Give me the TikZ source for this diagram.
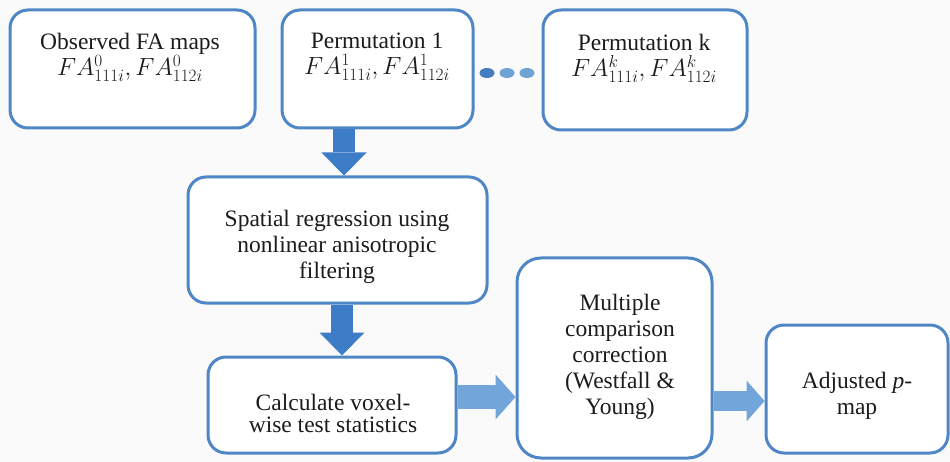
\documentclass[tikz,border=0pt]{standalone}
\usepackage{fontspec}
\setmainfont{Liberation Serif}
\usetikzlibrary{arrows.meta,calc}
\definecolor{boxblue}{RGB}{79,135,198}
\definecolor{arrdark}{RGB}{61,124,199}
\definecolor{arrlight}{RGB}{114,166,218}
\definecolor{dotdark}{RGB}{66,125,192}
\definecolor{dotlight}{RGB}{110,163,214}
\definecolor{txt}{RGB}{28,28,28}
\definecolor{bg}{RGB}{251,250,251}
\begin{document}
\begin{tikzpicture}[x=1pt,y=-1pt,
  flowbox/.style={draw=boxblue,line width=3pt,fill=white,rounded corners=18pt,
    inner sep=0pt},
  boxtext/.style={align=center,text=txt,inner sep=0pt,
    font=\fontsize{23.5}{26}\selectfont},
  vtarrow/.style={arrdark,line width=22pt,-{Triangle[width=45pt,length=23pt,line width=0pt]}},
  hzarrow/.style={arrlight,line width=24pt,-{Triangle[width=45pt,length=20pt,line width=0pt]}}]
\fill[bg] (0,0) rectangle (950,462);
\useasboundingbox (0,0) rectangle (950,462);
% boxes
\node[flowbox,minimum width=245pt,minimum height=118pt] (b1) at (132.5,69) {};
\node[flowbox,minimum width=191pt,minimum height=118pt] (b2) at (377.5,69) {};
\node[flowbox,minimum width=204pt,minimum height=120pt] (b3) at (645,70) {};
\node[flowbox,minimum width=299pt,minimum height=126pt] (b4) at (337.5,240) {};
\node[flowbox,minimum width=248pt,minimum height=96pt] (b5) at (332,405) {};
\node[flowbox,minimum width=195pt,minimum height=200pt,rounded corners=24pt] (b6) at (614.5,358) {};
\node[flowbox,minimum width=182pt,minimum height=128pt] (b7) at (857,389) {};
% texts
\node[boxtext] (t1) at (130,57) {Observed FA maps\\$FA^{0}_{111i}, FA^{0}_{112i}$};
\node[boxtext] (t2) at (377,57) {Permutation 1\\$FA^{1}_{111i}, FA^{1}_{112i}$};
\node[boxtext] (t3) at (644,58) {Permutation k\\$FA^{k}_{111i}, FA^{k}_{112i}$};
\node[boxtext] (t4) at (337,247) {Spatial regression using\\nonlinear anisotropic\\filtering};
\node[boxtext,font=\fontsize{23.5}{22}\selectfont] (t5) at (333,413) {Calculate voxel-\\wise test statistics};
\node[boxtext] (t6) at (620,357) {Multiple\\comparison\\correction\\(Westfall \&\\Young)};
\node[boxtext] (t7) at (857,396) {Adjusted \textit{p}-\\map};
% dots
\fill[dotdark] (487,73) ellipse [x radius=7.5pt,y radius=5pt];
\fill[dotlight] (507,73) ellipse [x radius=7.5pt,y radius=5pt];
\fill[dotlight] (527,73) ellipse [x radius=7.5pt,y radius=5pt];
% arrows
\coordinate (ax1) at (344,0);
\coordinate (ax2) at (342,0);
\coordinate (ay3) at (0,397);
\coordinate (ay4) at (0,401);
\draw[vtarrow] (b2.south -| ax1) -- (b4.north -| ax1);
\draw[vtarrow] (b4.south -| ax2) -- (b5.north -| ax2);
\draw[hzarrow] (b5.east |- ay3) -- (b6.west |- ay3);
\draw[hzarrow,line width=20pt,-{Triangle[width=41pt,length=18pt,line width=0pt]}] (b6.east |- ay4) -- (b7.west |- ay4);
\end{tikzpicture}
\end{document}
